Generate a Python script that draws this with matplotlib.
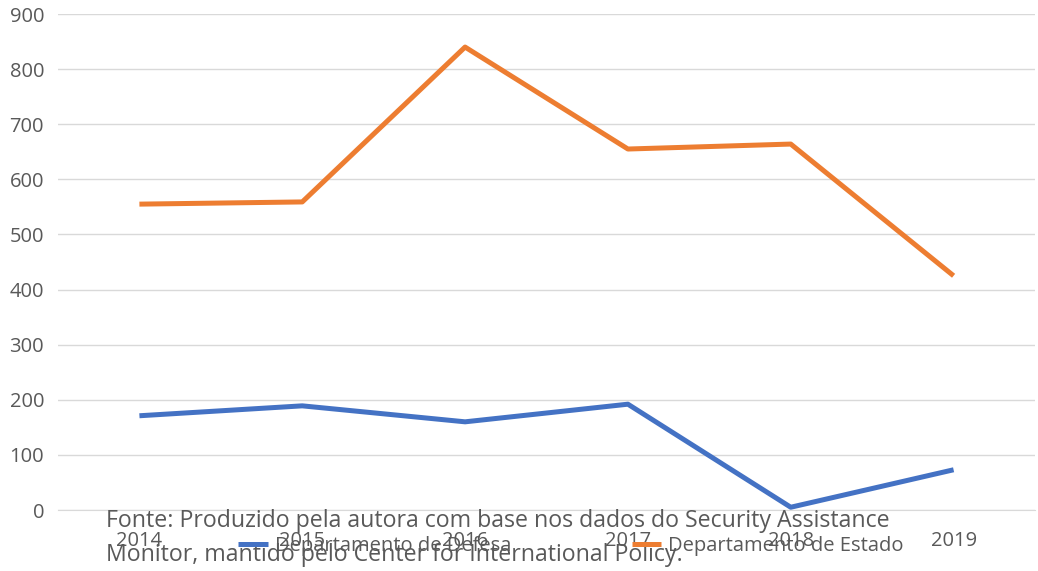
import matplotlib
matplotlib.use("Agg")
import matplotlib.pyplot as plt

# Data
years = ["2014", "2015", "2016", "2017", "2018", "2019"]
defesa = [171, 189, 160, 192, 5, 73]
estado = [555, 559, 840, 655, 664, 425]

plt.rcParams["font.family"] = ["Open Sans", "DejaVu Sans"]
grey = "#595959"

fig = plt.figure(figsize=(10.38, 5.71), dpi=100)
ax = fig.add_axes([58 / 1038, 1 - 510 / 571, (1035 - 58) / 1038, (510 - 14) / 571])

x = range(len(years))
ax.plot(x, defesa, color="#4472C4", lw=3.6, solid_capstyle="butt", label="Departamento de Defesa")
ax.plot(x, estado, color="#ED7D31", lw=3.6, solid_capstyle="butt", label="Departamento de Estado")

ax.set_xlim(-0.5, 5.5)
ax.set_ylim(0, 900)
ax.set_yticks(range(0, 901, 100))
ax.set_xticks(list(x))
ax.set_xticklabels(years)
ax.grid(axis="y", color="#D9D9D9", lw=1)
ax.set_axisbelow(True)
for s in ["top", "right", "left"]:
    ax.spines[s].set_visible(False)
ax.spines["bottom"].set_color("#D9D9D9")
ax.tick_params(axis="both", length=0, labelsize=14.5, colors=grey)
ax.tick_params(axis="y", pad=10)
ax.tick_params(axis="x", pad=15)

fig.legend(loc="center", bbox_to_anchor=(571 / 1038, 1 - 546 / 571), ncol=2,
           frameon=False, fontsize=14.5, labelcolor=grey, handlelength=1.45,
           handletextpad=0.35, columnspacing=6.0)

# source note, two lines placed separately
fig.text(106 / 1038, 1 - 521 / 571,
         "Fonte: Produzido pela autora com base nos dados do Security Assistance",
         fontsize=16.7, color=grey, va="center", ha="left")
fig.text(106 / 1038, 1 - 555 / 571,
         "Monitor, mantido pelo Center for International Policy.",
         fontsize=16.7, color=grey, va="center", ha="left")

fig.savefig("out.png", dpi=100)
